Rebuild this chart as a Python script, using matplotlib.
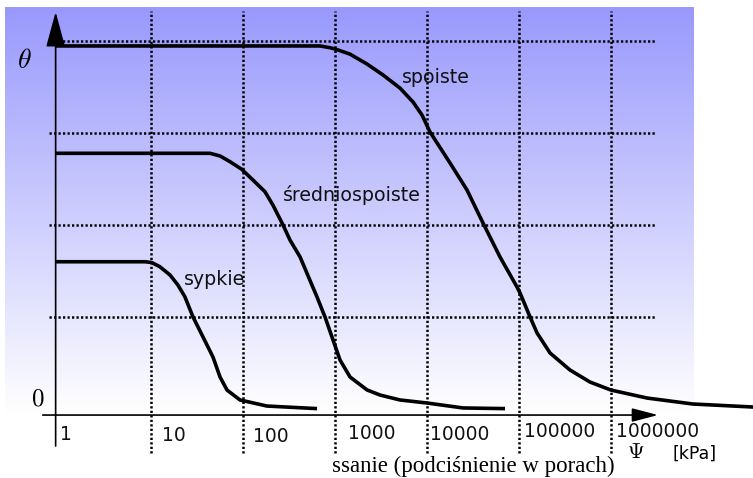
import numpy as np
import matplotlib
matplotlib.use('Agg')
import matplotlib.pyplot as plt
from matplotlib.colors import LinearSegmentedColormap
from matplotlib import transforms

plt.rcParams['mathtext.fontset'] = 'cm'

# suction Psi [kPa] and water content theta (grid units)
spoiste_psi = [0.91, 687, 883, 1002, 1459, 2234, 3337, 5100, 7075, 8865, 10840,
               17900, 27400, 40900, 62700, 95900, 103500, 133000, 158500, 219500,
               362000, 598000, 1.01e6, 2.5e6, 7.9e6, 3.6e7]
spoiste_theta = [3.946, 3.946, 3.927, 3.913, 3.857, 3.749, 3.630, 3.488, 3.336, 3.194, 3.009,
                 2.672, 2.378, 2.019, 1.649, 1.323, 1.258, 0.997, 0.823, 0.605,
                 0.420, 0.289, 0.202, 0.115, 0.050, 0.017]

sredniospoiste_psi = [0.91, 43.6, 56.1, 71.9, 96.6, 128, 173, 211, 272, 324, 417,
                      638, 780, 953, 1135, 1459, 2234, 3093, 5100, 10050, 24800, 71000]
sredniospoiste_theta = [2.778, 2.778, 2.749, 2.687, 2.604, 2.487, 2.360, 2.215, 1.998, 1.834, 1.650,
                        1.214, 0.996, 0.746, 0.529, 0.344, 0.203, 0.148, 0.094, 0.061, 0.007, 0.0]

sypkie_psi = [0.91, 8.55, 10.1, 12.4, 16.0, 19.5, 23.2, 28.5, 36.6, 47.0, 56.1,
              66.8, 92.5, 182, 638]
sypkie_theta = [1.598, 1.598, 1.590, 1.544, 1.454, 1.345, 1.218, 0.997, 0.779, 0.561, 0.343,
                0.202, 0.094, 0.028, 0.0]

curve_labels = ['spoiste', 'średniospoiste', 'sypkie']
label_psi = [12600, 1533, 49.4]
label_theta = [3.543, 2.262, 1.345]

decades = [1, 10, 100, 1000, 10000, 100000, 1000000]
tick_labels = ['1', '10', '100', '1000', '10000', '100000', '1000000']
theta_grid = [1, 2, 3, 4]

W, H = 753, 478

fig = plt.figure(figsize=(W / 100, H / 100), dpi=100)

# gradient background
bg = fig.add_axes([5 / W, (H - 415) / H, 689 / W, 408 / H])
cmap = LinearSegmentedColormap.from_list('bg', [(1, 1, 1), (153 / 255, 153 / 255, 253 / 255)])
bg.imshow(np.linspace(1, 0, 256).reshape(-1, 1), aspect='auto', cmap=cmap,
          extent=[0, 1, 0, 1], interpolation='bilinear')
bg.axis('off')

ax = fig.add_axes([0, 0, 1, 1])
ax.patch.set_alpha(0)
ax.set_xscale('log')
ax.set_xlim(10 ** -0.6467, 10 ** 7.551)
ax.set_ylim(-0.755, 4.446)
ax.axis('off')

dot = (0, (0.9, 0.9))
for d in decades[1:]:
    ax.plot([d, d], [-0.483, 4.325], color='black', lw=1.8, ls=dot)
for t in theta_grid:
    ax.plot([10 ** -0.113, 10 ** 6.495], [t, t], color='black', lw=1.8, ls=dot)

# axes with arrows
ax.annotate('', xy=(0.91, 4.316), xytext=(0.91, -0.407),
            arrowprops=dict(arrowstyle='-|>,head_length=2.2,head_width=0.6',
                            lw=1.2, color='black', shrinkA=0, shrinkB=0))
ax.annotate('', xy=(10 ** 6.517, -0.07), xytext=(0.658, -0.07),
            arrowprops=dict(arrowstyle='-|>,head_length=1.6,head_width=0.42',
                            lw=1.2, color='black', shrinkA=0, shrinkB=0))

for psi, th in [(spoiste_psi, spoiste_theta),
                (sredniospoiste_psi, sredniospoiste_theta),
                (sypkie_psi, sypkie_theta)]:
    ax.plot(psi, th, color='black', lw=2.6, solid_joinstyle='round', solid_capstyle='butt')

for lab, x, y in zip(curve_labels, label_psi, label_theta):
    ax.text(x, y, lab, fontsize=13.7, family='DejaVu Sans', ha='center', va='baseline',
            color='#111111')

# tick labels, nudged like in the drawing
dx = [1, 11, 10, 13, 3, 5, 5]
dy = [25, 26, 27, 24, 25, 22, 22]
for d, lab, ox, oy in zip(decades, tick_labels, dx, dy):
    tr = transforms.offset_copy(ax.transData, fig, x=ox, y=-oy, units='dots')
    ax.text(d, -0.07, lab, transform=tr, fontsize=13.5, family='DejaVu Sans',
            ha='left', va='baseline', color='#111111')

fig.text(17 / W, 1 - 68 / H, r'$\theta$', fontsize=20, ha='left', va='baseline')
fig.text(31 / W, 1 - 405 / H, r'$0$', fontsize=18, ha='left', va='baseline')
fig.text(636 / W, 1 - 458 / H, r'$\Psi$', fontsize=15.5, ha='center', va='baseline')
fig.text(672 / W, 1 - 459 / H, '[kPa]', fontsize=12.5, family='DejaVu Sans',
         ha='left', va='baseline')
fig.text(332 / W, 1 - 472 / H, 'ssanie (podciśnienie w porach)', fontsize=16.5,
         family='Liberation Serif', ha='left', va='baseline')

fig.savefig('out.png', dpi=100)
